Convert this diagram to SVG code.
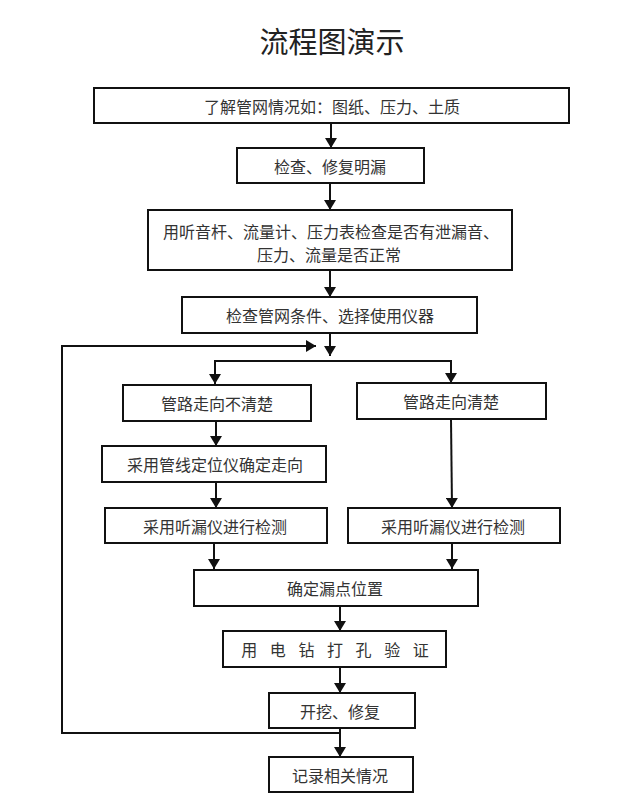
<svg xmlns="http://www.w3.org/2000/svg" width="640" height="812" viewBox="0 0 640 812">
<style>
.box{fill:#fff;stroke:#111;stroke-width:2}
.t{font-family:"Noto Sans CJK SC","Noto Sans",sans-serif;font-size:16px;fill:#333;text-anchor:middle;dominant-baseline:central}
.title{font-family:"Noto Sans CJK SC","Noto Sans",sans-serif;font-size:29px;fill:#222;text-anchor:middle;dominant-baseline:central}
.c{fill:none;stroke:#111;stroke-width:2}
</style>
<defs>
<marker id="ah" markerUnits="userSpaceOnUse" markerWidth="10" markerHeight="12" viewBox="0 0 10 12" refX="10" refY="6" orient="auto">
<path d="M0,0 L10,6 L0,12 Z" fill="#111"/>
</marker>
</defs>
<rect width="640" height="812" fill="#fff"/>
<text class="title" x="332" y="40">流程图演示</text>
<g id="connectors">
<line class="c" x1="331" y1="123" x2="331" y2="148" marker-end="url(#ah)"/>
<line class="c" x1="330" y1="183" x2="330" y2="210" marker-end="url(#ah)"/>
<line class="c" x1="330" y1="270" x2="330" y2="297" marker-end="url(#ah)"/>
<line class="c" x1="330" y1="333" x2="330" y2="356" marker-end="url(#ah)"/>
<polyline class="c" points="215,383 215,361 451,361 451,383" marker-end="url(#ah)"/>
<line class="c" x1="215" y1="361" x2="215" y2="384" marker-end="url(#ah)"/>
<line class="c" x1="216" y1="421" x2="216" y2="446" marker-end="url(#ah)"/>
<line class="c" x1="216" y1="482" x2="216" y2="508" marker-end="url(#ah)"/>
<line class="c" x1="451" y1="419" x2="452" y2="508" marker-end="url(#ah)"/>
<line class="c" x1="214" y1="543" x2="214" y2="569" marker-end="url(#ah)"/>
<line class="c" x1="452" y1="543" x2="452" y2="569" marker-end="url(#ah)"/>
<line class="c" x1="340" y1="606" x2="340" y2="631" marker-end="url(#ah)"/>
<line class="c" x1="340" y1="667" x2="340" y2="693" marker-end="url(#ah)"/>
<line class="c" x1="340" y1="728" x2="340" y2="757" marker-end="url(#ah)"/>
<polyline class="c" points="340,733 62,733 62,346 316,346" marker-end="url(#ah)"/>
</g>
<g id="n1"><rect class="box" x="94" y="88" width="475" height="35"/><text class="t" x="332" y="106">了解管网情况如：图纸、压力、土质</text></g>
<g id="n2"><rect class="box" x="237" y="148" width="187" height="35"/><text class="t" x="330" y="166">检查、修复明漏</text></g>
<g id="n3"><rect class="box" x="148" y="210" width="364" height="60"/><text class="t" x="331" y="231">用听音杆、流量计、压力表检查是否有泄漏音、</text><text class="t" x="329" y="254">压力、流量是否正常</text></g>
<g id="n4"><rect class="box" x="182" y="297" width="295" height="36"/><text class="t" x="330" y="315">检查管网条件、选择使用仪器</text></g>
<g id="n5"><rect class="box" x="123" y="385" width="188" height="36"/><text class="t" x="217" y="403">管路走向不清楚</text></g>
<g id="n6"><rect class="box" x="357" y="383" width="189" height="36"/><text class="t" x="451" y="401">管路走向清楚</text></g>
<g id="n7"><rect class="box" x="102" y="446" width="224" height="36"/><text class="t" x="215" y="464">采用管线定位仪确定走向</text></g>
<g id="n8"><rect class="box" x="105" y="508" width="222" height="35"/><text class="t" x="215" y="526">采用听漏仪进行检测</text></g>
<g id="n9"><rect class="box" x="348" y="508" width="212" height="35"/><text class="t" x="453" y="526">采用听漏仪进行检测</text></g>
<g id="n10"><rect class="box" x="194" y="570" width="284" height="36"/><text class="t" x="335" y="588">确定漏点位置</text></g>
<g id="n11"><rect class="box" x="223" y="631" width="223" height="36"/><text class="t" x="335" y="649" style="word-spacing:9px">用 电 钻 打 孔 验 证</text></g>
<g id="n12"><rect class="box" x="269" y="693" width="146" height="35"/><text class="t" x="340" y="711">开挖、修复</text></g>
<g id="n13"><rect class="box" x="269" y="757" width="144" height="35"/><text class="t" x="340" y="775">记录相关情况</text></g>
</svg>
